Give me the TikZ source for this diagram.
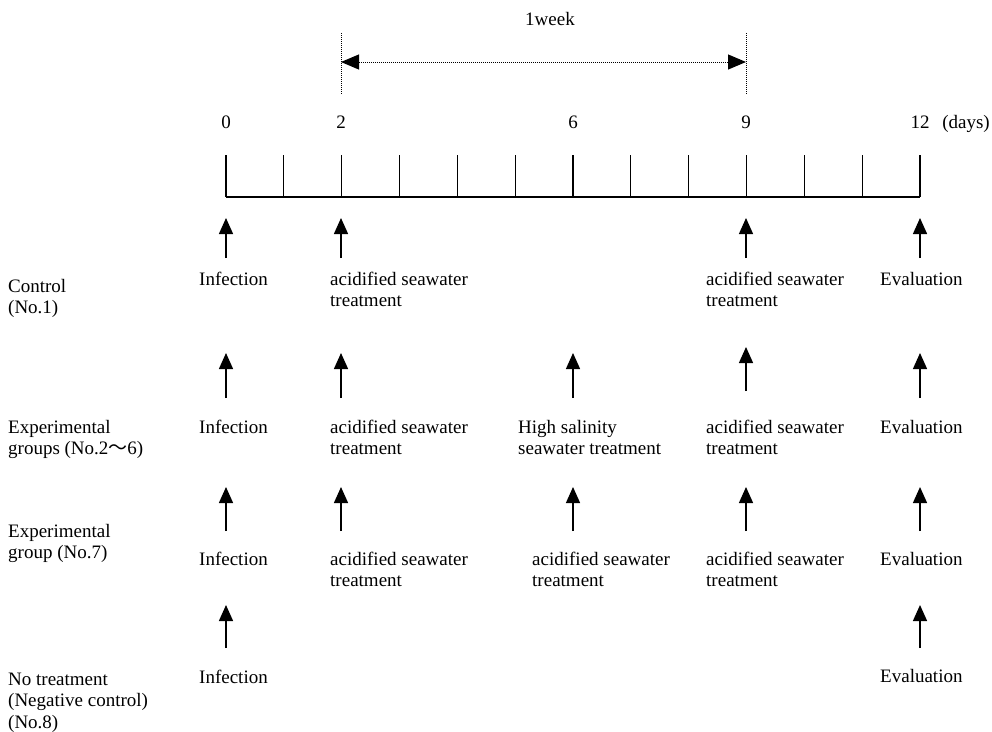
\documentclass[tikz,border=0pt]{standalone}
\usepackage{fontspec}
\setmainfont{Liberation Serif}
\newfontfamily\cjkfont{Noto Sans CJK JP}
\usetikzlibrary{arrows.meta,calc}

\tikzset{
  txt/.style={inner sep=0pt, anchor=base west, align=left, font=\fontsize{19}{21.5}\selectfont},
  num/.style={inner sep=0pt, anchor=base, font=\fontsize{19}{21.5}\selectfont},
  evt/.style={-{Triangle[length=16pt,width=14pt]}, line width=1.4pt},
  span/.style={densely dotted, line width=1pt},
}

\begin{document}
\begin{tikzpicture}[x=1pt,y=-1pt]
    \useasboundingbox (0,0) rectangle (992,731);
    % One week
        \node[num] (week) at (550,25) {1week};
        \coordinate (w2top) at (341,33); \coordinate (w2bot) at (341,95);
        \coordinate (w9top) at (746,33); \coordinate (w9bot) at (746,95);
        \coordinate (w2) at (341,62); \coordinate (w9) at (746,62);
        \draw[span] (w2top) -- (w2bot);
        \draw[span] (w9top) -- (w9bot);
        \draw[span, {Triangle[length=18pt,width=15pt]}-{Triangle[length=18pt,width=15pt]}] (w2) -- (w9);
    % Days
        \node[num] (n0) at (226,128) {0};
        \node[num] (n2) at (341,128) {2};
        \node[num] (n6) at (573,128) {6};
        \node[num] (n9) at (746,128) {9};
        \node[num] (n12) at (920,128) {12};
        \node[num] (days) at (966,128) {(days)};
    % Axis
        \coordinate (d0) at (226,197);
        \coordinate (d12) at (920,197);
        \draw[line width=1.4pt] (d0) -- (d12);
        \foreach \k in {0,...,12}
            \draw[line width=1.2pt] ($(d0)!\k/12!(d12)$) -- ++(0,-42);
    % Control (No.1)
        \node[txt] (g1) at (8,313.5) {Control\\(No.1)};
        \node[txt] (g1inf) at (199,285) {Infection};
        \node[txt] (g1acid2) at (330,306.5) {acidified seawater\\treatment};
        \node[txt] (g1acid9) at (706,306.5) {acidified seawater\\treatment};
        \node[txt] (g1eval) at (880,285) {Evaluation};
    % Experimental groups (No.2-6)
        \node[txt] (g2) at (8,454.5) {Experimental\\groups (No.2{\cjkfont ～}6)};
        \node[txt] (g2inf) at (199,433) {Infection};
        \node[txt] (g2acid2) at (330,454.5) {acidified seawater\\treatment};
        \node[txt] (g2salt6) at (518,454.5) {High salinity\\seawater treatment};
        \node[txt] (g2acid9) at (706,454.5) {acidified seawater\\treatment};
        \node[txt] (g2eval) at (880,433) {Evaluation};
    % Experimental group (No.7)
        \node[txt] (g3) at (8,558.5) {Experimental\\group (No.7)};
        \node[txt] (g3inf) at (199,565) {Infection};
        \node[txt] (g3acid2) at (330,586.5) {acidified seawater\\treatment};
        \node[txt] (g3acid6) at (532,586.5) {acidified seawater\\treatment};
        \node[txt] (g3acid9) at (706,586.5) {acidified seawater\\treatment};
        \node[txt] (g3eval) at (880,565) {Evaluation};
    % No treatment (No.8)
        \node[txt] (g4) at (8,728) {No treatment\\(Negative control)\\(No.8)};
        \node[txt] (g4inf) at (199,683) {Infection};
        \node[txt] (g4eval) at (880,682) {Evaluation};
    % Event arrows
        \foreach \x/\tip/\tail [count=\i] in {226/218/258, 341/218/258, 746/218/258, 920/218/258,
                 226/353/398, 341/353/398, 573/353/398, 746/347/391, 920/353/398,
                 226/487/531, 341/487/531, 573/487/531, 746/487/531, 920/487/531,
                 226/605/648, 920/605/648}{
            \coordinate (tip\i) at (\x,\tip);
            \coordinate (tail\i) at (\x,\tail);
            \draw[evt] (tail\i) -- (tip\i);
        }
\end{tikzpicture}
\end{document}
